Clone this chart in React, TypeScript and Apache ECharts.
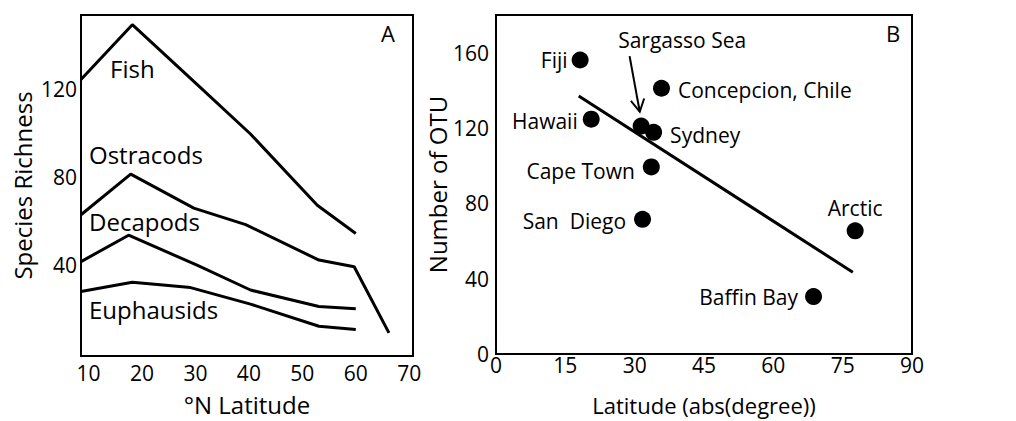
import React, { useEffect, useRef } from "react";
import * as echarts from "echarts";

// ---------- Panel A data ----------
const fishLat = [8.6, 18.2, 30.4, 40.3, 52.8, 60];
const fishVal = [124.5, 149.4, 122, 99.7, 67.3, 54.5];
const ostraLat = [8.6, 17.9, 29.7, 39.4, 53.1, 59.7, 66.2];
const ostraVal = [63, 81.5, 66, 58.5, 42.4, 39.4, 9.3];
const decaLat = [8.6, 17.5, 30.4, 40.3, 53.1, 60];
const decaVal = [41.7, 53.7, 40, 28.8, 21.3, 20.3];
const euphLat = [8.6, 18.2, 29.1, 40.3, 53.1, 60];
const euphVal = [28.1, 32.3, 29.9, 22.4, 12.3, 10.8];
const aXTicks = [10, 20, 30, 40, 50, 60, 70];
const aYTicks = [40, 80, 120];
const aGroupNames = ["Fish", "Ostracods", "Decapods", "Euphausids"];

// ---------- Panel B data ----------
const sites = ["Fiji", "Hawaii", "Sargasso Sea", "Sydney", "Concepcion, Chile", "Cape Town", "San  Diego", "Arctic", "Baffin Bay"];
const siteLat = [18.2, 20.6, 31.4, 34.1, 35.8, 33.6, 31.7, 77.7, 68.7];
const siteOtu = [156.1, 124.7, 121, 117.7, 141.1, 99.3, 71.5, 65.4, 30.5];
const fitLat = [17.9, 77.2];
const fitOtu = [137, 43.4];
const arrowFrom = [28.9, 158.2];
const arrowTo = [31.1, 128.6];
const bXTicks = [0, 15, 30, 45, 60, 75, 90];
const bYTicks = [0, 40, 80, 120, 160];

const FONT = "Open Sans";
const BLACK = "#000";
const W = 500;

const labelPlacement: Record<string, any> = {
  "Fiji": { position: "left", distance: 4 },
  "Hawaii": { position: "left", distance: 5, offset: [0, 2] },
  "Sargasso Sea": { position: "top", distance: 5, offset: [41, -62] },
  "Sydney": { position: "right", distance: 8, offset: [0, 3] },
  "Concepcion, Chile": { position: "right", distance: 8, offset: [0, 2] },
  "Cape Town": { position: "left", distance: 8, offset: [0, 4] },
  "San  Diego": { position: "left", distance: 8, offset: [0, 2] },
  "Arctic": { position: "top", distance: 4 },
  "Baffin Bay": { position: "left", distance: 7 },
};

function zip(xs: number[], ys: number[]) {
  return xs.map((x, i) => [x, ys[i]]);
}

export default function App() {
  const ref = useRef<HTMLDivElement>(null);
  useEffect(() => {
    if (!ref.current) return;
    const chart = echarts.init(ref.current, undefined, { renderer: "svg" });
    const tickLabel = { color: BLACK, fontSize: 21, fontFamily: FONT, fontWeight: W };
    const nameStyle = { color: BLACK, fontSize: 24, fontFamily: FONT, fontWeight: W };
    const lineStyleA = { color: BLACK, width: 3 };
    const lineSeries = (lat: number[], val: number[]) => ({
      type: "line",
      xAxisIndex: 0,
      yAxisIndex: 0,
      data: zip(lat, val),
      showSymbol: false,
      symbol: "none",
      lineStyle: lineStyleA,
      itemStyle: { color: BLACK },
    });
    const option: any = {
      animation: false,
      backgroundColor: "#fff",
      grid: [
        { left: 81, top: 15, width: 332, height: 343, show: true, borderColor: BLACK, borderWidth: 2, backgroundColor: "transparent" },
        { left: 496, top: 15, width: 416, height: 345, show: true, borderColor: BLACK, borderWidth: 2, backgroundColor: "transparent" },
      ],
      xAxis: [
        {
          type: "value", gridIndex: 0, min: 8.6, max: 70.7,
          axisLine: { show: false }, axisTick: { show: false }, splitLine: { show: false },
          axisLabel: { ...tickLabel, customValues: aXTicks, margin: 6, showMaxLabel: true, showMinLabel: true },
          name: "°N Latitude", nameLocation: "middle", nameGap: 36, nameTextStyle: nameStyle,
        },
        {
          type: "value", gridIndex: 1, min: 0, max: 90, interval: 15,
          axisLine: { show: false }, axisTick: { show: false }, splitLine: { show: false },
          axisLabel: { ...tickLabel, customValues: bXTicks, margin: 0, showMaxLabel: true, showMinLabel: true },
          name: "Latitude (abs(degree))", nameLocation: "middle", nameGap: 40, nameTextStyle: { ...nameStyle, fontSize: 22 },
        },
      ],
      yAxis: [
        {
          type: "value", gridIndex: 0, min: -1.2, max: 153.8,
          axisLine: { show: false }, axisTick: { show: false }, splitLine: { show: false },
          axisLabel: { ...tickLabel, customValues: aYTicks, margin: 4 },
          name: "Species Richness", nameLocation: "middle", nameGap: 47, nameTextStyle: nameStyle,
        },
        {
          type: "value", gridIndex: 1, min: 0, max: 180,
          axisLine: { show: false }, axisTick: { show: false }, splitLine: { show: false },
          axisLabel: { ...tickLabel, customValues: bYTicks, margin: 7 },
          name: "Number of OTU", nameLocation: "middle", nameGap: 37, nameTextStyle: nameStyle,
        },
      ],
      series: [
        lineSeries(fishLat, fishVal),
        lineSeries(ostraLat, ostraVal),
        lineSeries(decaLat, decaVal),
        lineSeries(euphLat, euphVal),
        {
          type: "line", xAxisIndex: 1, yAxisIndex: 1,
          data: zip(fitLat, fitOtu), symbol: "none",
          lineStyle: { color: BLACK, width: 3 },
        },
        {
          type: "custom", xAxisIndex: 1, yAxisIndex: 1,
          data: [[arrowFrom[0], arrowFrom[1], arrowTo[0], arrowTo[1]]],
          encode: { x: [0, 2], y: [1, 3] },
          renderItem: (_p: any, api: any) => {
            const p1 = api.coord([api.value(0), api.value(1)]);
            const p2 = api.coord([api.value(2), api.value(3)]);
            const ang = Math.atan2(p2[1] - p1[1], p2[0] - p1[0]);
            const L = 14, a = 0.5;
            const h1 = [p2[0] - L * Math.cos(ang - a), p2[1] - L * Math.sin(ang - a)];
            const h2 = [p2[0] - L * Math.cos(ang + a), p2[1] - L * Math.sin(ang + a)];
            return {
              type: "group",
              children: [
                { type: "line", shape: { x1: p1[0], y1: p1[1], x2: p2[0], y2: p2[1] }, style: { stroke: BLACK, lineWidth: 2 } },
                { type: "polyline", shape: { points: [h1, p2, h2] }, style: { stroke: BLACK, fill: null, lineWidth: 2 } },
              ],
            };
          },
        },
        {
          type: "scatter", xAxisIndex: 1, yAxisIndex: 1,
          symbolSize: 17,
          itemStyle: { color: BLACK, opacity: 1 },
          data: sites.map((s, i) => ({
            name: s,
            value: [siteLat[i], siteOtu[i]],
            label: { show: true, formatter: "{b}", color: BLACK, fontSize: 21, fontFamily: FONT, fontWeight: W, ...labelPlacement[s] },
          })),
        },
      ],
      graphic: [
        { type: "text", left: 110, top: 56, style: { text: aGroupNames[0], fill: BLACK, font: `${W} 24px '${FONT}'` } },
        { type: "text", left: 89, top: 142, style: { text: aGroupNames[1], fill: BLACK, font: `${W} 24px '${FONT}'` } },
        { type: "text", left: 89, top: 209, style: { text: aGroupNames[2], fill: BLACK, font: `${W} 24px '${FONT}'` } },
        { type: "text", left: 89, top: 297, style: { text: aGroupNames[3], fill: BLACK, font: `${W} 24px '${FONT}'` } },
        { type: "text", left: 381, top: 22, style: { text: "A", fill: BLACK, font: `${W} 22px '${FONT}'` } },
        { type: "text", left: 886, top: 22, style: { text: "B", fill: BLACK, font: `${W} 22px '${FONT}'` } },
      ],
    };
    chart.setOption(option);
    return () => chart.dispose();
  }, []);
  return <div ref={ref} style={{ position: "fixed", left: 0, top: 0, width: 1016, height: 421, background: "#fff" }} />;
}
